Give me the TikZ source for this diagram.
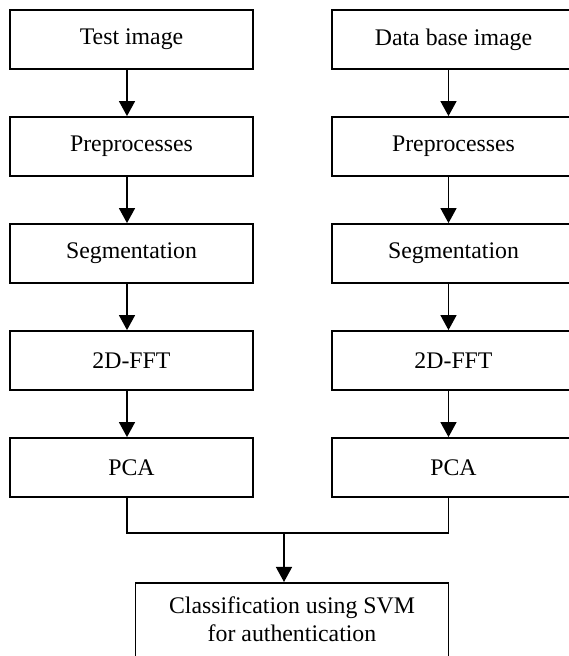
\documentclass[tikz,border=0pt]{standalone}
\usepackage{fontspec}
\setmainfont{Liberation Serif}
\usetikzlibrary{arrows.meta,calc}
\begin{document}
\begin{tikzpicture}[x=1pt,y=1pt,
  stepbox/.style={draw=black, line width=1.8pt, minimum width=243pt, minimum height=59pt,
    inner sep=0pt, font=\fontsize{23.8}{28}\selectfont},
  arr/.style={line width=1.4pt, -{Triangle[width=16pt,length=15pt]}},
  joinline/.style={line width=1.4pt}]
\useasboundingbox (0,0) rectangle (569,656);
\clip (0,0) rectangle (569,656);
% left column
\node[stepbox] (l1) at (131.5,616.5) {Test image};
\node[stepbox] (l2) at (131.5,509.5) {Preprocesses};
\node[stepbox] (l3) at (131.5,402.5) {Segmentation};
\node[stepbox] (l4) at (131.5,295.5) {2D-FFT};
\node[stepbox] (l5) at (131.5,188.5) {PCA};
% right column
\node[stepbox] (r1) at (453.5,616.5) {Data base image};
\node[stepbox] (r2) at (453.5,509.5) {Preprocesses};
\node[stepbox] (r3) at (453.5,402.5) {Segmentation};
\node[stepbox] (r4) at (453.5,295.5) {2D-FFT};
\node[stepbox] (r5) at (453.5,188.5) {PCA};
% bottom box
\node[draw=black, line width=1.8pt, inner sep=0pt, anchor=north,
  font=\fontsize{23.8}{28}\selectfont] (cls) at (292,74)
  {\parbox[b][100pt][t]{313pt}{\centering\rule{0pt}{31pt}Classification using SVM\\for authentication}};
% x positions of connectors
\coordinate (lx) at (127,0);
\coordinate (rx) at (448.5,0);
\coordinate (mx) at (284,0);
\coordinate (jy) at (0,123);
\coordinate (jl) at (lx |- jy);
\coordinate (jr) at (rx |- jy);
\coordinate (jm) at (mx |- jy);
% arrows
\foreach \a/\b in {l1/l2,l2/l3,l3/l4,l4/l5}{
  \draw[arr] (\a.south -| lx) -- (\b.north -| lx);
}
\foreach \a/\b in {r1/r2,r2/r3,r3/r4,r4/r5}{
  \draw[arr] (\a.south -| rx) -- (\b.north -| rx);
}
\draw[joinline] (l5.south -| lx) -- (jl) -- (jr) -- (r5.south -| rx);
\draw[arr] (jm) -- (cls.north -| mx);
\end{tikzpicture}
\end{document}
